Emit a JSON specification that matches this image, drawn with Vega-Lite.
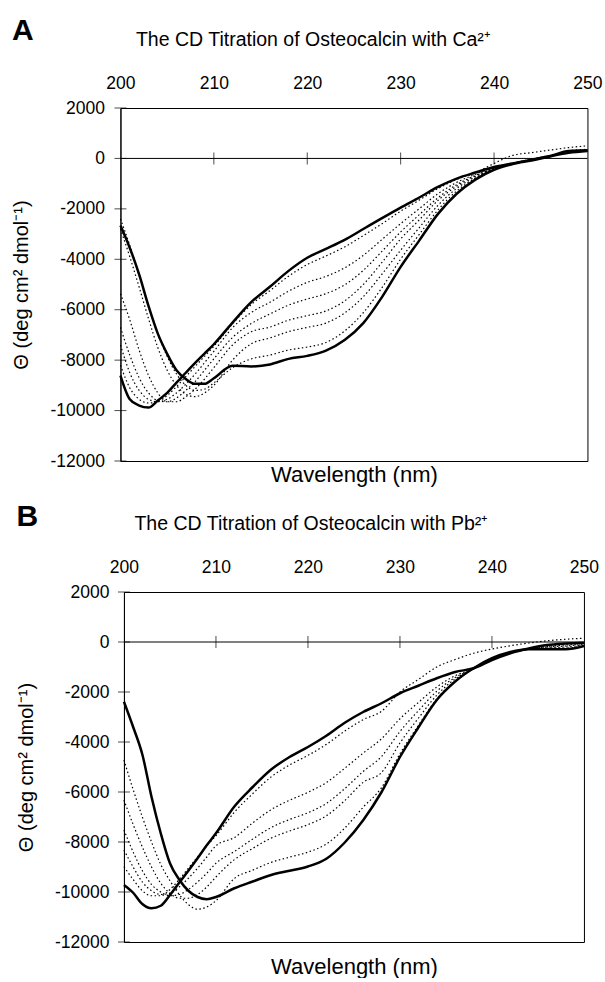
{
  "$schema": "https://vega.github.io/schema/vega-lite/v6.json",
  "background": "white",
  "padding": {"left": 11, "top": 15, "right": 2, "bottom": 0},
  "spacing": 15,
  "center": true,
  "config": {
    "font": "Liberation Sans",
    "view": {"stroke": "black", "strokeWidth": 1},
    "axis": {"labelColor": "black", "titleColor": "black", "labelFontSize": 17.5, "labelFont": "Liberation Sans", "titleFont": "Liberation Sans", "titleFontWeight": "normal", "grid": false, "domainColor": "black", "tickColor": "black"},
    "title": {"font": "Liberation Sans", "color": "black"}
  },
  "datasets": {
    "cdA": [
      {"x":200,"b1":-8610,"b2":-2660,"d1":-8200,"d2":-7400,"d3":-6700,"d4":-5370,"d5":-2800,"d6":-2400},
      {"x":201,"b1":-9550,"b2":-3550,"d1":-9100,"d2":-8500,"d3":-7800,"d4":-6400,"d5":-3900,"d6":-3450},
      {"x":202,"b1":-9800,"b2":-4600,"d1":-9550,"d2":-9200,"d3":-8700,"d4":-7600,"d5":-5100,"d6":-4650},
      {"x":203,"b1":-9880,"b2":-5850,"d1":-9700,"d2":-9550,"d3":-9300,"d4":-8600,"d5":-6350,"d6":-5850},
      {"x":204,"b1":-9600,"b2":-6950,"d1":-9650,"d2":-9650,"d3":-9600,"d4":-9300,"d5":-7500,"d6":-6950},
      {"x":205,"b1":-9300,"b2":-7750,"d1":-9400,"d2":-9550,"d3":-9650,"d4":-9650,"d5":-8400,"d6":-7850},
      {"x":206,"b1":-8890,"b2":-8400,"d1":-9050,"d2":-9300,"d3":-9500,"d4":-9650,"d5":-9000,"d6":-8550},
      {"x":207,"b1":-8500,"b2":-8750,"d1":-8650,"d2":-8950,"d3":-9200,"d4":-9450,"d5":-9350,"d6":-9000},
      {"x":208,"b1":-8110,"b2":-8940,"d1":-8250,"d2":-8550,"d3":-8850,"d4":-9150,"d5":-9450,"d6":-9200},
      {"x":209,"b1":-7740,"b2":-8940,"d1":-7850,"d2":-8100,"d3":-8400,"d4":-8750,"d5":-9300,"d6":-9150},
      {"x":210,"b1":-7370,"b2":-8720,"d1":-7450,"d2":-7650,"d3":-7950,"d4":-8300,"d5":-9000,"d6":-8900},
      {"x":212,"b1":-6510,"b2":-8220,"d1":-6560,"d2":-6715,"d3":-7100,"d4":-7400,"d5":-8000,"d6":-8300},
      {"x":214,"b1":-5700,"b2":-8250,"d1":-5800,"d2":-6110,"d3":-6550,"d4":-6875,"d5":-7350,"d6":-7950},
      {"x":216,"b1":-5090,"b2":-8170,"d1":-5245,"d2":-5705,"d3":-6170,"d4":-6690,"d5":-7120,"d6":-7800},
      {"x":218,"b1":-4460,"b2":-7950,"d1":-4670,"d2":-5265,"d3":-5820,"d4":-6415,"d5":-6870,"d6":-7600},
      {"x":220,"b1":-3940,"b2":-7830,"d1":-4210,"d2":-4915,"d3":-5575,"d4":-6235,"d5":-6700,"d6":-7480},
      {"x":222,"b1":-3590,"b2":-7620,"d1":-3870,"d2":-4680,"d3":-5365,"d4":-6050,"d5":-6530,"d6":-7300},
      {"x":224,"b1":-3230,"b2":-7200,"d1":-3510,"d2":-4340,"d3":-5015,"d4":-5650,"d5":-6130,"d6":-6845},
      {"x":226,"b1":-2800,"b2":-6530,"d1":-3060,"d2":-3845,"d3":-4440,"d4":-5000,"d5":-5485,"d6":-6120},
      {"x":228,"b1":-2370,"b2":-5500,"d1":-2590,"d2":-3215,"d3":-3685,"d4":-4125,"d5":-4590,"d6":-5125},
      {"x":230,"b1":-1950,"b2":-4300,"d1":-2090,"d2":-2585,"d3":-2915,"d4":-3195,"d5":-3640,"d6":-3995},
      {"x":232,"b1":-1550,"b2":-3250,"d1":-1650,"d2":-1990,"d3":-2230,"d4":-2435,"d5":-2740,"d6":-3010},
      {"x":234,"b1":-1130,"b2":-2200,"d1":-1195,"d2":-1400,"d3":-1560,"d4":-1665,"d5":-1860,"d6":-2040},
      {"x":236,"b1":-800,"b2":-1400,"d1":-830,"d2":-950,"d3":-1040,"d4":-1100,"d5":-1190,"d6":-1290},
      {"x":238,"b1":-560,"b2":-840,"d1":-575,"d2":-630,"d3":-670,"d4":-700,"d5":-740,"d6":-785},
      {"x":240,"b1":-340,"b2":-450,"d1":-200,"d2":-360,"d3":-380,"d4":-400,"d5":-410,"d6":-430},
      {"x":242,"b1":-200,"b2":-220,"d1":120,"d2":-180,"d3":-200,"d4":-200,"d5":-210,"d6":-215},
      {"x":244,"b1":-50,"b2":-80,"d1":230,"d2":-30,"d3":-50,"d4":-60,"d5":-70,"d6":-75},
      {"x":246,"b1":100,"b2":80,"d1":330,"d2":120,"d3":100,"d4":90,"d5":85,"d6":80},
      {"x":248,"b1":290,"b2":220,"d1":430,"d2":300,"d3":280,"d4":260,"d5":240,"d6":230},
      {"x":250,"b1":320,"b2":290,"d1":500,"d2":360,"d3":340,"d4":320,"d5":300,"d6":290}
    ],
    "cdB": [
      {"x":200,"b1":-2390,"b2":-9720,"d1":-8987,"d2":-8320,"d3":-7520,"d4":-6320,"d5":-4720},
      {"x":201,"b1":-3400,"b2":-10030,"d1":-9500,"d2":-9000,"d3":-8400,"d4":-7300,"d5":-5900},
      {"x":202,"b1":-4500,"b2":-10480,"d1":-9950,"d2":-9600,"d3":-9150,"d4":-8200,"d5":-7000},
      {"x":203,"b1":-6200,"b2":-10650,"d1":-10150,"d2":-9950,"d3":-9700,"d4":-9000,"d5":-8000},
      {"x":204,"b1":-7650,"b2":-10550,"d1":-10150,"d2":-10100,"d3":-10000,"d4":-9650,"d5":-8900},
      {"x":205,"b1":-8850,"b2":-10120,"d1":-9900,"d2":-10050,"d3":-10150,"d4":-10050,"d5":-9550},
      {"x":206,"b1":-9500,"b2":-9630,"d1":-9500,"d2":-9800,"d3":-10100,"d4":-10250,"d5":-10100},
      {"x":207,"b1":-9950,"b2":-9150,"d1":-9050,"d2":-9450,"d3":-9900,"d4":-10250,"d5":-10500},
      {"x":208,"b1":-10200,"b2":-8650,"d1":-8600,"d2":-9050,"d3":-9600,"d4":-10100,"d5":-10690},
      {"x":209,"b1":-10290,"b2":-8130,"d1":-8150,"d2":-8600,"d3":-9250,"d4":-9800,"d5":-10600},
      {"x":210,"b1":-10200,"b2":-7650,"d1":-7750,"d2":-8150,"d3":-8850,"d4":-9400,"d5":-10350},
      {"x":212,"b1":-9850,"b2":-6580,"d1":-6810,"d2":-7820,"d3":-8380,"d4":-8705,"d5":-9460},
      {"x":214,"b1":-9580,"b2":-5800,"d1":-6065,"d2":-7235,"d3":-7880,"d4":-8255,"d5":-9125},
      {"x":216,"b1":-9320,"b2":-5100,"d1":-5395,"d2":-6705,"d3":-7420,"d4":-7845,"d5":-8815},
      {"x":218,"b1":-9150,"b2":-4600,"d1":-4920,"d2":-6330,"d3":-7100,"d4":-7560,"d5":-8605},
      {"x":220,"b1":-8980,"b2":-4200,"d1":-4535,"d2":-6015,"d3":-6830,"d4":-7305,"d5":-8405},
      {"x":222,"b1":-8670,"b2":-3750,"d1":-4095,"d2":-5620,"d3":-6455,"d4":-6950,"d5":-8080},
      {"x":224,"b1":-8020,"b2":-3230,"d1":-3565,"d2":-5050,"d3":-5865,"d4":-6345,"d5":-7445},
      {"x":226,"b1":-7130,"b2":-2800,"d1":-3105,"d2":-4445,"d3":-5180,"d4":-5615,"d5":-6610},
      {"x":228,"b1":-6000,"b2":-2450,"d1":-2770,"d2":-3870,"d3":-4580,"d4":-5220,"d5":-5825},
      {"x":230,"b1":-4600,"b2":-2050,"d1":-2000,"d2":-3070,"d3":-3580,"d4":-4040,"d5":-4470},
      {"x":232,"b1":-3420,"b2":-1750,"d1":-1500,"d2":-2420,"d3":-2750,"d4":-3050,"d5":-3340},
      {"x":234,"b1":-2320,"b2":-1450,"d1":-1000,"d2":-1800,"d3":-1970,"d4":-2130,"d5":-2280},
      {"x":236,"b1":-1580,"b2":-1200,"d1":-700,"d2":-1350,"d3":-1420,"d4":-1480,"d5":-1560},
      {"x":238,"b1":-1050,"b2":-1050,"d1":-450,"d2":-1080,"d3":-1080,"d4":-1070,"d5":-1060},
      {"x":240,"b1":-650,"b2":-720,"d1":-280,"d2":-700,"d3":-690,"d4":-680,"d5":-670},
      {"x":242,"b1":-400,"b2":-450,"d1":-150,"d2":-440,"d3":-430,"d4":-420,"d5":-410},
      {"x":244,"b1":-290,"b2":-260,"d1":-40,"d2":-280,"d3":-280,"d4":-285,"d5":-290},
      {"x":246,"b1":-290,"b2":-120,"d1":50,"d2":-180,"d3":-200,"d4":-230,"d5":-260},
      {"x":248,"b1":-290,"b2":-60,"d1":110,"d2":-120,"d3":-160,"d4":-200,"d5":-250},
      {"x":250,"b1":-160,"b2":-27,"d1":150,"d2":-60,"d3":-90,"d4":-120,"d5":-150}
    ],
    "xticks": [{"x":210},{"x":220},{"x":230},{"x":240}],
    "yticks": [{"cd":-12000},{"cd":-10000},{"cd":-8000},{"cd":-6000},{"cd":-4000},{"cd":-2000},{"cd":0},{"cd":2000}],
    "zero": [{"cd":0}]
  },
  "vconcat": [
    {
      "title": {"text": "A", "anchor": "start", "frame": "bounds", "fontSize": 30, "fontWeight": "bold", "offset": -17},
      "width": 467,
      "height": 353,
      "resolve": {"scale": {"x": "shared", "y": "shared"}, "axis": {"x": "independent"}},
      "layer": [
        {
          "data": {"name": "zero"},
          "mark": {"type": "rule", "color": "black", "strokeWidth": 1},
          "encoding": {"y": {"field": "cd", "type": "quantitative", "scale": {"domain": [-12000, 2000], "nice": false}}}
        },
        {
          "data": {"name": "xticks"},
          "mark": {"type": "tick", "orient": "vertical", "color": "black", "thickness": 1, "size": 12},
          "encoding": {
            "x": {"field": "x", "type": "quantitative", "scale": {"domain": [200, 250], "nice": false}, "axis": null},
            "y": {"datum": 0, "type": "quantitative", "scale": {"domain": [-12000, 2000], "nice": false}}
          }
        },
        {
          "data": {"name": "yticks"},
          "mark": {"type": "tick", "orient": "horizontal", "color": "black", "thickness": 1, "size": 12},
          "encoding": {
            "x": {"datum": 200, "type": "quantitative", "scale": {"domain": [200, 250], "nice": false}, "axis": null},
            "y": {"field": "cd", "type": "quantitative", "scale": {"domain": [-12000, 2000], "nice": false}}
          }
        },
        {
          "data": {"name": "cdA"},
          "transform": [
            {"fold": ["d1", "d2", "d3", "d4", "d5", "d6"], "as": ["series", "cd"]}
          ],
          "mark": {"type": "line", "color": "black", "strokeWidth": 1.2, "strokeDash": [1.5, 2.5], "interpolate": "monotone"},
          "encoding": {
            "x": {"field": "x", "type": "quantitative", "scale": {"domain": [200, 250], "nice": false},
                  "axis": {"orient": "top", "values": [200, 210, 220, 230, 240, 250], "ticks": false, "domain": false, "labelPadding": 16, "labelFlush": false, "labelOverlap": false,
                           "title": "The CD Titration of Osteocalcin with Ca²⁺", "titleFontSize": 19.5, "titleAnchor": "start", "titleAlign": "left", "titleX": 15, "titlePadding": 25}},
            "y": {"field": "cd", "type": "quantitative", "scale": {"domain": [-12000, 2000], "nice": false},
                  "axis": {"values": [-12000, -10000, -8000, -6000, -4000, -2000, 0, 2000], "labelExpr": "datum.value + ''", "ticks": false, "domain": true, "labelPadding": 16, "title": "Θ (deg cm² dmol⁻¹)", "titleFontSize": 20, "titlePadding": 18}},
            "detail": {"field": "series"}
          }
        },
        {
          "data": {"name": "cdA"},
          "transform": [
            {"fold": ["b1", "b2"], "as": ["series", "cd"]}
          ],
          "mark": {"type": "line", "color": "black", "strokeWidth": 2.5, "interpolate": "monotone"},
          "encoding": {
            "x": {"field": "x", "type": "quantitative", "scale": {"domain": [200, 250], "nice": false},
                  "axis": {"orient": "bottom", "labels": false, "ticks": false, "domain": false, "title": "Wavelength (nm)", "titleFontSize": 22, "titlePadding": 3}},
            "y": {"field": "cd", "type": "quantitative", "scale": {"domain": [-12000, 2000], "nice": false}},
            "detail": {"field": "series"}
          }
        }
      ]
    },
    {
      "title": {"text": "B", "anchor": "start", "frame": "bounds", "fontSize": 30, "fontWeight": "bold", "offset": -19},
      "width": 460,
      "height": 350,
      "resolve": {"scale": {"x": "shared", "y": "shared"}, "axis": {"x": "independent"}},
      "layer": [
        {
          "data": {"name": "zero"},
          "mark": {"type": "rule", "color": "black", "strokeWidth": 1},
          "encoding": {"y": {"field": "cd", "type": "quantitative", "scale": {"domain": [-12000, 2000], "nice": false}}}
        },
        {
          "data": {"name": "xticks"},
          "mark": {"type": "tick", "orient": "vertical", "color": "black", "thickness": 1, "size": 12},
          "encoding": {
            "x": {"field": "x", "type": "quantitative", "scale": {"domain": [200, 250], "nice": false}, "axis": null},
            "y": {"datum": 0, "type": "quantitative", "scale": {"domain": [-12000, 2000], "nice": false}}
          }
        },
        {
          "data": {"name": "yticks"},
          "mark": {"type": "tick", "orient": "horizontal", "color": "black", "thickness": 1, "size": 12},
          "encoding": {
            "x": {"datum": 200, "type": "quantitative", "scale": {"domain": [200, 250], "nice": false}, "axis": null},
            "y": {"field": "cd", "type": "quantitative", "scale": {"domain": [-12000, 2000], "nice": false}}
          }
        },
        {
          "data": {"name": "cdB"},
          "transform": [
            {"fold": ["d1", "d2", "d3", "d4", "d5"], "as": ["series", "cd"]}
          ],
          "mark": {"type": "line", "color": "black", "strokeWidth": 1.2, "strokeDash": [1.5, 2.5], "interpolate": "monotone"},
          "encoding": {
            "x": {"field": "x", "type": "quantitative", "scale": {"domain": [200, 250], "nice": false},
                  "axis": {"orient": "top", "values": [200, 210, 220, 230, 240, 250], "ticks": false, "domain": false, "labelPadding": 16, "labelFlush": false, "labelOverlap": false,
                           "title": "The CD Titration of Osteocalcin with Pb²⁺", "titleFontSize": 19.5, "titleAnchor": "start", "titleAlign": "left", "titleX": 10, "titlePadding": 25}},
            "y": {"field": "cd", "type": "quantitative", "scale": {"domain": [-12000, 2000], "nice": false},
                  "axis": {"values": [-12000, -10000, -8000, -6000, -4000, -2000, 0, 2000], "labelExpr": "datum.value + ''", "ticks": false, "domain": true, "labelPadding": 15, "title": "Θ (deg cm² dmol⁻¹)", "titleFontSize": 20, "titlePadding": 18}},
            "detail": {"field": "series"}
          }
        },
        {
          "data": {"name": "cdB"},
          "transform": [
            {"fold": ["b1", "b2"], "as": ["series", "cd"]}
          ],
          "mark": {"type": "line", "color": "black", "strokeWidth": 2.5, "interpolate": "monotone"},
          "encoding": {
            "x": {"field": "x", "type": "quantitative", "scale": {"domain": [200, 250], "nice": false},
                  "axis": {"orient": "bottom", "labels": false, "ticks": false, "domain": false, "title": "Wavelength (nm)", "titleFontSize": 22, "titlePadding": 14}},
            "y": {"field": "cd", "type": "quantitative", "scale": {"domain": [-12000, 2000], "nice": false}},
            "detail": {"field": "series"}
          }
        }
      ]
    }
  ]
}
